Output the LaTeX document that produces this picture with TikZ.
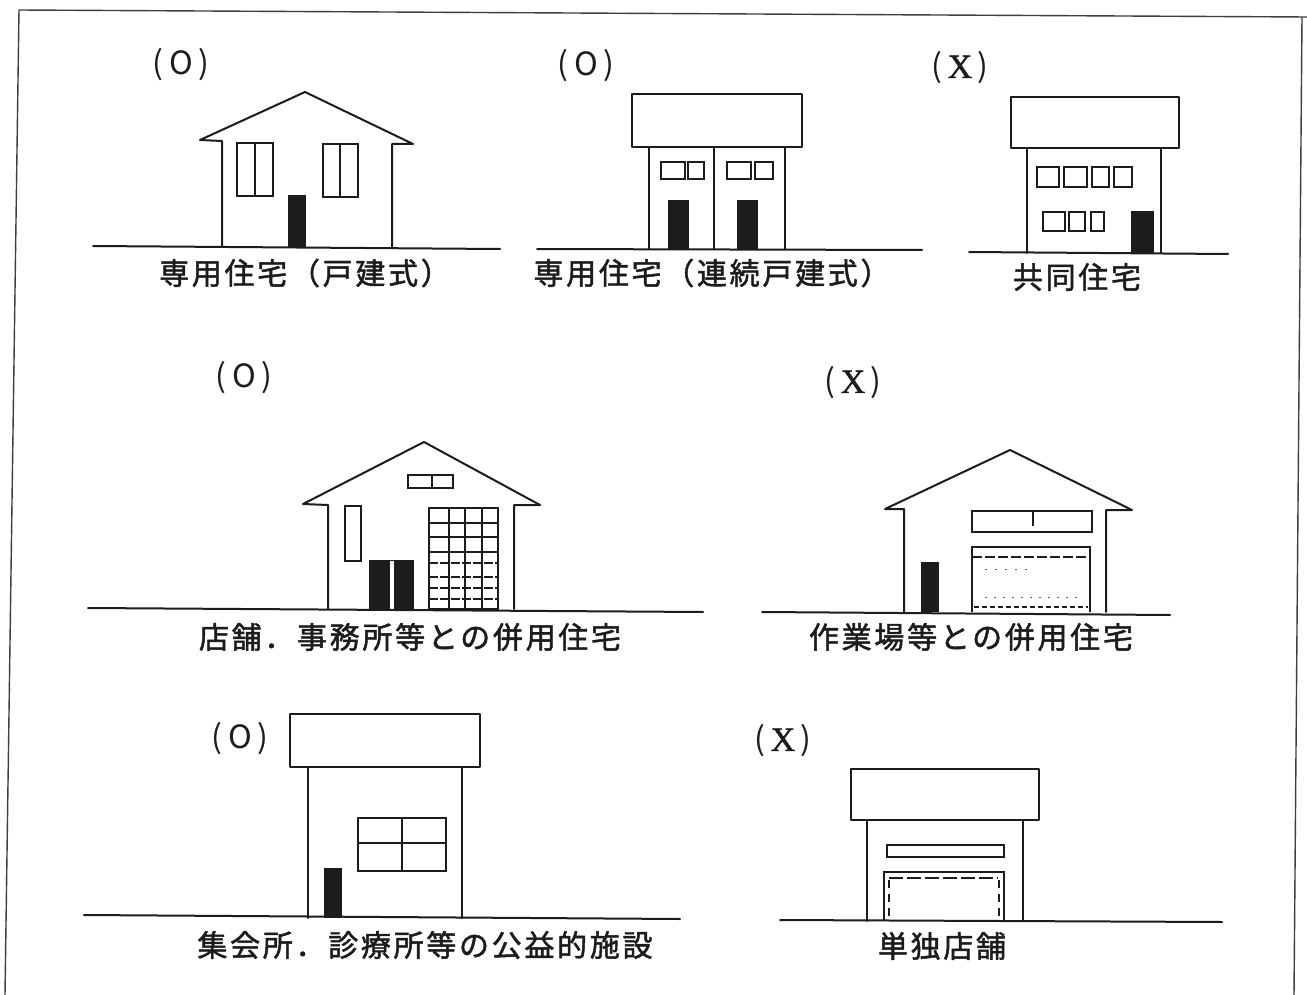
\documentclass[tikz,border=0pt]{standalone}
\usepackage{fontspec}
\newfontfamily\cjk[LetterSpace=9,FakeBold=1.6]{Noto Sans CJK JP}
\newfontfamily\tagfont{Noto Sans CJK JP}
\newfontfamily\serifx[FakeBold=1.2]{Liberation Serif}
\definecolor{ink}{HTML}{1C1C1C}
\tikzset{
  wall/.style={draw=ink, line width=2pt, line join=round, line cap=round},
  pane/.style={draw=ink, line width=1.6pt},
  fine/.style={draw=ink, line width=1.2pt},
  ground/.style={draw=ink, line width=2pt, line cap=round},
  caption/.style={font=\cjk\fontsize{30}{30}\selectfont, text=ink, inner sep=0pt},
  verdict/.style={font=\tagfont\fontsize{32}{32}\selectfont, text=ink, inner sep=0pt},
  frameline/.style={draw=ink!85, line width=1.4pt}
}
\newcommand{\okmark}{(\hspace{6pt}O\hspace{6pt})}
\newcommand{\ngmark}{(\hspace{5pt}{\serifx\fontsize{34}{34}\selectfont X}\hspace{5pt})}
\begin{document}
\begin{tikzpicture}[x=1pt,y=-1pt]
\useasboundingbox (0,0) rectangle (1307,995);
\fill[white] (0,0) rectangle (1307,995);

% outer frame
\draw[frameline] (5,995) -- (19,10) -- (1307,17);
\draw[frameline] (1302,17) -- (1294,995);

% ---- detached house ----
\node[verdict] (v1) at (181,65) {\okmark};
\draw[wall] (222,247) -- (222,141) -- (200,140) -- (305,92) -- (413,144) -- (392,144) -- (392,247);
\draw[pane] (237,143) rectangle (273,196) (255,143) -- (255,196);
\draw[pane] (323,144) rectangle (358,197) (340,144) -- (340,197);
\fill[ink] (288,195) rectangle (306,247);
\draw[ground] (93,246) -- (500,249);
\node[caption] (c1) at (305,273) {専用住宅（戸建式）};

% ---- row house ----
\node[verdict] (v2) at (586,66) {\okmark};
\draw[wall] (632,94) rectangle (802,147);
\draw[wall] (649,147) -- (649,249) (785,147) -- (785,249);
\draw[pane] (714,147) -- (714,249);
\foreach \a/\b in {661/685, 688/704, 727/751, 755/773}
  \draw[fine] (\a,162) rectangle (\b,179);
\fill[ink] (668,200) rectangle (689,249);
\fill[ink] (737,200) rectangle (758,249);
\draw[ground] (537,249) -- (922,250);
\node[caption] (c2) at (712,273) {専用住宅（連続戸建式）};

% ---- apartment ----
\node[verdict] (v3) at (960,68) {\ngmark};
\draw[wall] (1011,97) rectangle (1179,148);
\draw[wall] (1027,148) -- (1027,253) (1161,148) -- (1161,253);
\foreach \a/\b in {1037/1059, 1064/1087, 1092/1109, 1114/1132}
  \draw[fine] (\a,167) rectangle (\b,187);
\foreach \a/\b in {1043/1065, 1069/1085, 1091/1104}
  \draw[fine] (\a,212) rectangle (\b,231);
\fill[ink] (1131,211) rectangle (1154,253);
\draw[ground] (969,252) -- (1228,254);
\node[caption] (c3) at (1077,277) {共同住宅};

% ---- house with shop / office ----
\node[verdict] (v4) at (244,378) {\okmark};
\draw[wall] (328,609) -- (328,505) -- (303,504) -- (424,442) -- (540,505) -- (514,505) -- (514,609);
\draw[pane] (345,506) rectangle (361,561);
\draw[pane] (408,475) rectangle (453,488) (432,475) -- (432,488);
\fill[ink] (369,560) rectangle (390,609);
\fill[ink] (394,560) rectangle (414,609);
\draw[ink, line width=0.8pt] (369,560) -- (414,560);
\draw[pane] (429,508) rectangle (498,609);
\foreach \x in {449,465,482} \draw[fine] (\x,508) -- (\x,609);
\foreach \y in {523,537,552} \draw[fine] (429,\y) -- (498,\y);
\foreach \y in {563,577,588,599} \draw[fine, dash pattern=on 9pt off 2pt] (429,\y) -- (498,\y);
\draw[ground] (88,608) -- (703,612);
\node[caption] (c4) at (410,637) {店舗．事務所等との併用住宅};

% ---- house with workshop ----
\node[verdict] (v5) at (853,383) {\ngmark};
\draw[wall] (904,612) -- (904,509) -- (885,509) -- (1010,450) -- (1132,510) -- (1106,510) -- (1106,612);
\draw[pane] (972,511) rectangle (1092,532);
\draw[fine] (1033,511) -- (1033,526);
\draw[pane] (972,612) -- (972,547) -- (1090,547) -- (1090,612);
\draw[fine, dash pattern=on 10pt off 3pt] (972,557) -- (1090,557);
\draw[ink!70, line width=1pt, dash pattern=on 2pt off 8pt] (985,569) -- (1030,569);
\draw[ink!70, line width=1pt, dash pattern=on 2pt off 7pt] (985,597) -- (1080,597);
\draw[ink, line width=1.1pt, dash pattern=on 5pt off 3pt] (974,607) -- (1088,607);
\fill[ink] (921,562) rectangle (939,612);
\draw[ground] (762,612) -- (1170,615);
\node[caption] (c5) at (971,637) {作業場等との併用住宅};

% ---- public facility ----
\node[verdict] (v6) at (240,739) {\okmark};
\draw[wall] (290,714) rectangle (480,767);
\draw[wall] (308,767) -- (308,918) (462,767) -- (462,918);
\draw[pane] (358,818) rectangle (446,871);
\draw[pane] (402,818) -- (402,871) (358,843) -- (446,843);
\fill[ink] (324,868) rectangle (342,918);
\draw[ground] (84,915) -- (680,919);
\node[caption] (c6) at (425,945) {集会所．診療所等の公益的施設};

% ---- stand-alone shop ----
\node[verdict] (v7) at (783,741) {\ngmark};
\draw[wall] (851,769) rectangle (1039,820);
\draw[wall] (867,820) -- (867,921) (1023,820) -- (1023,921);
\draw[pane] (887,845) rectangle (1004,857);
\draw[pane] (884,921) -- (884,872) -- (1004,872) -- (1004,921);
\draw[fine, dash pattern=on 14pt off 4pt] (889,878) -- (998,878);
\draw[fine, dash pattern=on 8pt off 6pt] (889,880) -- (889,921);
\draw[fine, dash pattern=on 8pt off 6pt] (999,880) -- (999,921);
\draw[ground] (780,920) -- (1222,922);
\node[caption] (c7) at (942,946) {単独店舗};
\end{tikzpicture}
\end{document}
